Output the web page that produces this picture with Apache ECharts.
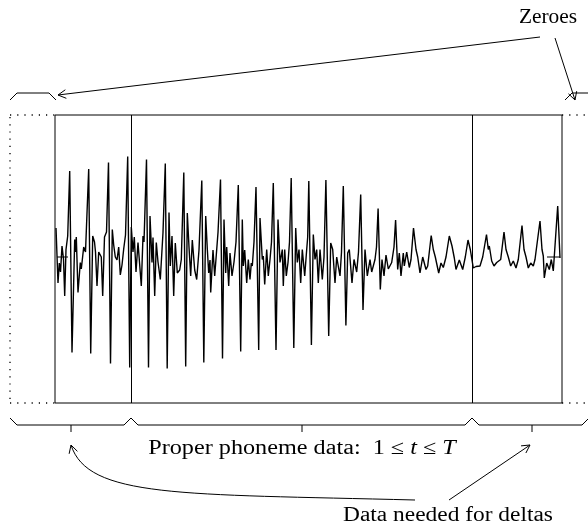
<!DOCTYPE html>
<html>
<head>
<meta charset="utf-8">
<script src="https://cdn.jsdelivr.net/npm/echarts@6/dist/echarts.min.js"></script>
<style>
  html, body { margin: 0; padding: 0; background: #fff; }
  #main { width: 588px; height: 527px; }
</style>
</head>
<body>
<div id="main"></div>
<script>
//************************* 数据 ******************************//
// 语音波形采样点 [t, 幅值]
var wave = [
    [1, 29], [3, -26], [4.3, -6], [5.5, -15], [7, 11], [8.5, -2], [9.7, -39], [11, 7.5], [12.7, 21],
    [14.7, 86], [17, -95.5],
    [19.7, 17.5], [20.5, 5], [21.3, 20], [23, -35.5], [25.3, -5.5], [26.3, -12], [28.7, 10], [30.5, 5],
    [33.7, 88], [35.7, -96.5],
    [37.7, 21], [39.5, 15], [40.5, 5], [42, -29], [43.7, 5], [46.3, 0], [47.7, -39], [49.5, 20], [51.5, 25],
    [53.5, 94.5], [55.5, -106.5],
    [57.3, 27.5], [58.7, 12], [60.3, 0], [62, -3], [63.7, 10], [65.3, -18], [67, -8], [68.7, 8], [70.5, 22],
    [72.7, 100.5], [74.7, -110.5],
    [76.3, 30], [78, 5], [79.3, 20], [81, -15], [83, 14.5], [86.3, -29], [88, 21], [89, 15],
    [91.5, 97.5], [93.5, -110.5],
    [95, 41], [97, -5.5], [98, 19.5], [99.7, -39], [101.3, 14.5], [103, -5], [105.3, -22.5], [108, 24.5],
    [110.3, 93.5], [112.2, -111.5],
    [114, 44.5], [115.3, -9], [117, 21], [118.7, -39], [120.3, 14], [122.3, -16], [124.7, -13], [126.3, -2.5],
    [128.8, 84.5], [130.7, -109.5],
    [132.3, 44], [134, 10], [135.7, -19], [137.3, 17], [139.7, -13], [141.7, -22.5], [144, 7],
    [146.8, 76.5], [148.8, -105.5],
    [150.7, 41], [152.3, 8], [153.7, -16], [155, -3], [155.7, -35.5], [158, 7], [159.7, -19], [163, 24.5],
    [165.5, 77.5], [167.5, -101.5],
    [169, 37.5], [170.7, -16], [171.7, 10], [173.7, -29], [175, 4], [177, -19], [179, -5], [181, 15],
    [183.3, 72], [185.7, -94.5],
    [187.3, 37.5], [188.3, -9], [189.7, 7], [191.7, -26], [193.3, -2.5], [195, -22.5], [196.3, -6], [197.3, -9], [199, 15],
    [201, 70], [203.7, -93],
    [205, 39], [207.3, -2.5], [208.3, 1], [209.7, -27.5], [211.7, 7.5], [213.3, -19], [215, -2.5], [216.5, 15],
    [218.3, 74], [221, -93],
    [223, 37.5], [225, -5.5], [227.3, 7.5], [228.3, -29], [229.7, 7.5], [231.3, -19], [233, -5.5], [234.5, 15],
    [236.2, 79], [238.8, -91],
    [240.7, 29], [242.3, -5.5], [244, 7.5], [245.7, -26], [247.3, 7.5], [249.7, -19], [251.7, 7.5], [252.7, 20],
    [253.8, 76], [256.4, -88],
    [258.3, 22.5], [260, -2.5], [261.7, 7.5], [263.3, -26], [265, 7.5], [267.3, -22.5], [269, 0],
    [270.9, 77], [273.7, -79],
    [275.7, 14], [277.7, 7.5], [280, -26], [281.7, 0], [285, -19], [286.5, 5],
    [288.3, 71], [290.9, -68.5],
    [292.7, 4], [294.3, 7.5], [297, -26], [299, -2.5], [301.7, -15], [303.5, 5],
    [305.7, 62.5], [308, -53],
    [310, 7.5], [312.3, -19], [315, -2.5], [316.7, -15], [320, -2.5], [321.5, 10],
    [323.1, 48.5], [325.3, -32.5],
    [327, -2.5], [329, -19], [331, 2], [333.3, -12], [336.7, -5.5], [339, 10],
    [340.6, 37], [342.7, -12.5], [344.3, 4], [346, -19], [348.3, 4], [349.3, -9], [351.7, 5], [354.3, -10.5], [356, -2.5],
    [358.5, 29], [361, 7.5], [362.7, 0], [365, -16], [367.7, 0], [371, -12.5], [372.7, -9],
    [376.2, 21.5], [378.3, 7.5], [380.3, 0], [383.7, -16], [386, -6], [388.3, -10.5], [391, 0],
    [394.3, 21], [397, 11], [399.3, -1], [401, -12.5], [404.3, -3], [407.7, -12.5], [410.3, 0],
    [413, 17], [415.3, 7.5], [418.3, -11], [421, -9.5], [422.7, -11], [425, -9], [427.7, 0],
    [431.5, 22.5], [433.3, 7.5], [434.3, 11], [436.7, -4], [439, -9], [441.7, -5.5], [443.3, -7], [445.7, -2.5],
    [449, 25], [451, 7.5], [453.3, 0], [455.7, -9], [458.3, -4], [461, -11], [463.3, -2.5],
    [467, 31.5], [469, 7.5], [471, 0], [473.3, -11], [475.7, -6], [478.3, -9], [480, -2.5],
    [485, 36], [487, 7.5], [488.3, 1], [489.3, -21], [491.7, -6], [494.3, -12.5], [496.3, -2.5], [498.3, -14],
    [502.7, 51], [505, -1]
];
// 首尾的零线短段
var zeroStart = [[2, 0], [13, 0]];
var zeroEnd = [[492, 0], [505, 0]];
// 分界线位置（delta 所需数据 / 正式音素数据）
var splitT = [76, 417];
var tMax = 507;
var vMin = -146, vMax = 142;

var labelZeroes = 'Zeroes';
var labelDeltas = 'Data needed for deltas';
var labelProper = '{a|Proper phoneme data:  1 ≤ }{i|t}{a| ≤ }{i|T}';

//************************* 工具函数 ******************************//
// 开口箭头（tikz 风格）
function arrowHead(tip, from, len){
    var dx = tip[0] - from[0], dy = tip[1] - from[1];
    var l = Math.sqrt(dx * dx + dy * dy);
    dx /= l; dy /= l;
    var a = 0.5, c = Math.cos(a), s = Math.sin(a);
    var p1 = [tip[0] - len * (dx * c - dy * s), tip[1] - len * (dy * c + dx * s)];
    var p2 = [tip[0] - len * (dx * c + dy * s), tip[1] - len * (dy * c - dx * s)];
    return { type: 'polyline', shape: { points: [p1, tip, p2] }, style: { stroke: '#000', fill: null, lineWidth: 1 } };
}
function line(pts, dash){
    return {
        type: 'polyline',
        shape: { points: pts },
        style: { stroke: '#000', fill: null, lineWidth: dash ? 1.3 : 1, lineDash: dash || null }
    };
}
var serif = '"Liberation Serif", "DejaVu Serif", serif';
// 文字：横向拉宽一点，接近 Computer Modern 的字宽
function label(text, x, y, sx){
    return {
        type: 'text',
        x: x, y: y, scaleX: sx,
        style: {
            text: text, x: 0, y: 0, fill: '#000', align: 'center', verticalAlign: 'middle',
            fontFamily: serif, fontSize: 20,
            rich: {
                a: { fontFamily: serif, fontSize: 20, fill: '#000' },
                i: { fontFamily: serif, fontSize: 20, fontStyle: 'italic', fill: '#000' }
            }
        }
    };
}

//************************* 渲染 ******************************//
var myChart = echarts.init(document.getElementById('main'));

var dots = [1.2, 6];
var graphics = [
    // 虚线框
    line([[10, 115], [55, 115]], dots),
    line([[10, 403], [55, 403]], dots),
    line([[10, 117], [10, 401]], dots),
    line([[562, 115], [588, 115]], dots),
    line([[562, 403], [588, 403]], dots),
    // 上方括号
    line([[10, 100], [17, 93], [49, 93], [56, 100]]),
    line([[565, 100], [572, 93], [588, 93]]),
    // 下方大括号
    line([[10, 418], [17, 425], [124, 425], [131, 418], [138, 425], [465, 425], [472, 418], [479, 425], [582, 425], [588, 419]]),
    line([[71, 425], [71, 432]]),
    line([[302, 425], [302, 432]]),
    line([[532, 425], [532, 432]]),
    // Zeroes 箭头
    line([[540, 37], [58, 95]]),
    arrowHead([58, 95], [540, 37], 9),
    line([[555, 38], [575, 100]]),
    arrowHead([575, 100], [555, 38], 9),
    // deltas 箭头
    {
        type: 'bezierCurve',
        shape: { x1: 415, y1: 500, cpx1: 180, cpy1: 494, cpx2: 88, cpy2: 498, x2: 71, y2: 445 },
        style: { stroke: '#000', fill: null, lineWidth: 1 }
    },
    arrowHead([71, 445], [80, 475], 9),
    line([[449, 500], [530, 445]]),
    arrowHead([530, 445], [449, 500], 9),
    // 文字
    label(labelZeroes, 548, 18, 1.07),
    label(labelDeltas, 448, 516, 1.17),
    label(labelProper, 302, 449, 1.21)
];

var option = {
    animation: false,
    backgroundColor: '#fff',
    grid: {
        left: 55, right: 26, top: 115, bottom: 124,
        show: true, borderColor: '#000', borderWidth: 1, backgroundColor: 'transparent'
    },
    xAxis: { type: 'value', min: 0, max: tMax, show: false },
    yAxis: { type: 'value', min: vMin, max: vMax, show: false },
    series: [
        {
            type: 'line',
            data: wave,
            symbol: 'none',
            lineStyle: { color: '#000', width: 1.4 },
            markLine: {
                silent: true,
                symbol: 'none',
                label: { show: false },
                lineStyle: { color: '#000', width: 1, type: 'solid' },
                data: splitT.map(function(t){ return { xAxis: t }; })
            }
        },
        { type: 'line', data: zeroStart, symbol: 'none', lineStyle: { color: '#000', width: 1 } },
        { type: 'line', data: zeroEnd, symbol: 'none', lineStyle: { color: '#000', width: 1 } }
    ],
    graphic: graphics
};

myChart.setOption(option);
</script>
</body>
</html>
